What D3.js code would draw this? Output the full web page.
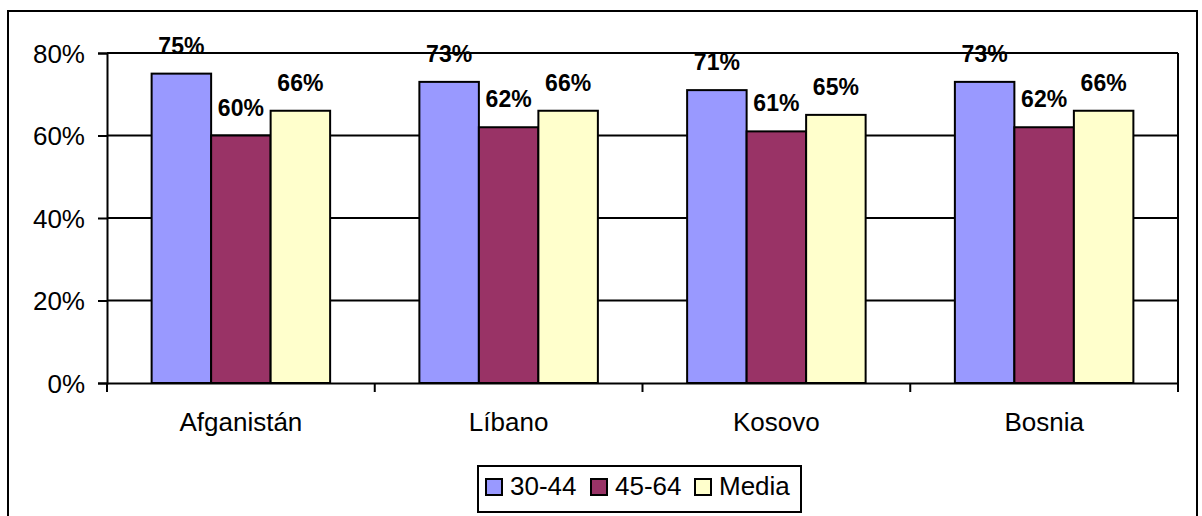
<!DOCTYPE html>
<html><head><meta charset="utf-8">
<script src="https://cdn.jsdelivr.net/npm/d3@7"></script>
<style>body{margin:0;background:#fff;} svg{display:block;font-family:"Liberation Sans",Arial,sans-serif;}</style>
</head><body>
<svg id="c" width="1202" height="516"></svg>
<script>
const categories = ["Afganistán","Líbano","Kosovo","Bosnia"];
const seriesNames = ["30-44","45-64","Media"];
const s3044 = [75,73,71,73];
const s4564 = [60,62,61,62];
const sMedia = [66,66,65,66];
const yTicks = [0,20,40,60,80];
const colors = ["#9999FF","#993366","#FFFFCC"];
const seriesVals = [s3044,s4564,sMedia];

const svg = d3.select("#c");
svg.append("rect").attr("x",8).attr("y",11).attr("width",1189).attr("height",520)
  .attr("fill","none").attr("stroke","#000").attr("stroke-width",2);

const L=107, R=1178, T=53, B=383;
const FONT = "Liberation Sans, Arial, sans-serif";
const x = d3.scaleBand().domain(categories).range([L,R]).paddingInner(0).paddingOuter(0);
const inner = d3.scaleBand().domain(seriesNames).range([0,x.bandwidth()]).paddingInner(0).paddingOuter(0.75);
const y = d3.scaleLinear().domain([0,80]).range([B,T]);

svg.append("g").selectAll("line").data(yTicks.filter(d=>d>0)).join("line")
  .attr("x1",L).attr("x2",R).attr("y1",d=>y(d)).attr("y2",d=>y(d))
  .attr("stroke","#000").attr("stroke-width",2);
svg.append("line").attr("x1",R).attr("x2",R).attr("y1",T).attr("y2",B).attr("stroke","#000").attr("stroke-width",2);

const yAxis = d3.axisLeft(y).tickValues(yTicks).tickFormat(d=>d+"%").tickSize(9).tickPadding(13);
const gy = svg.append("g").attr("transform",`translate(${L},0)`).call(yAxis);
gy.attr("font-size",null).attr("font-family",null);
gy.select(".domain").attr("stroke-width",2);
gy.selectAll(".tick line").attr("stroke-width",2);
gy.selectAll("text").style("font-size","26px").style("font-family",FONT).attr("fill","#000").attr("dy","0.35em");

const groups = svg.append("g").selectAll("g").data(categories).join("g")
  .attr("transform",d=>`translate(${x(d)},0)`);
groups.selectAll("rect").data((c,i)=>seriesNames.map((s,j)=>({s,j,v:seriesVals[j][i]}))).join("rect")
  .attr("x",d=>inner(d.s)).attr("width",inner.bandwidth())
  .attr("y",d=>y(d.v)).attr("height",d=>B-y(d.v))
  .attr("fill",d=>colors[d.j]).attr("stroke","#000").attr("stroke-width",2);
groups.selectAll("text").data((c,i)=>seriesNames.map((s,j)=>({s,j,v:seriesVals[j][i]}))).join("text")
  .attr("x",d=>inner(d.s)+inner.bandwidth()/2).attr("y",d=>y(d.v)-20)
  .attr("text-anchor","middle").style("font-size","23px").attr("font-weight","bold")
  .text(d=>d.v+"%");

const xAxis = d3.axisBottom(x).tickSize(0).tickPadding(0);
const gx = svg.append("g").attr("transform",`translate(0,${B})`).call(xAxis);
gx.attr("font-size",null).attr("font-family",null);
gx.select(".domain").attr("stroke-width",2);
gx.selectAll("text").style("font-size","26px").style("font-family",FONT).attr("fill","#000").attr("dy",0).attr("y",48);
const bounds = categories.map(c=>x(c)).concat([R]);
svg.append("g").selectAll("line").data(bounds).join("line")
  .attr("x1",d=>d).attr("x2",d=>d).attr("y1",B).attr("y2",B+9)
  .attr("stroke","#000").attr("stroke-width",2);

const lg = svg.append("g");
lg.append("rect").attr("x",478).attr("y",466).attr("width",323).attr("height",46)
  .attr("fill","#fff").attr("stroke","#000").attr("stroke-width",2);
const lx = [486,591,695];
const items = lg.selectAll("g").data(seriesNames).join("g").attr("transform",(d,i)=>`translate(${lx[i]},0)`);
items.append("rect").attr("x",0).attr("y",479).attr("width",16).attr("height",16)
  .attr("fill",(d,i)=>colors[i]).attr("stroke","#000").attr("stroke-width",2);
items.append("text").attr("x",24).attr("y",495).style("font-size","26px").text(d=>d);
</script>
</body></html>
